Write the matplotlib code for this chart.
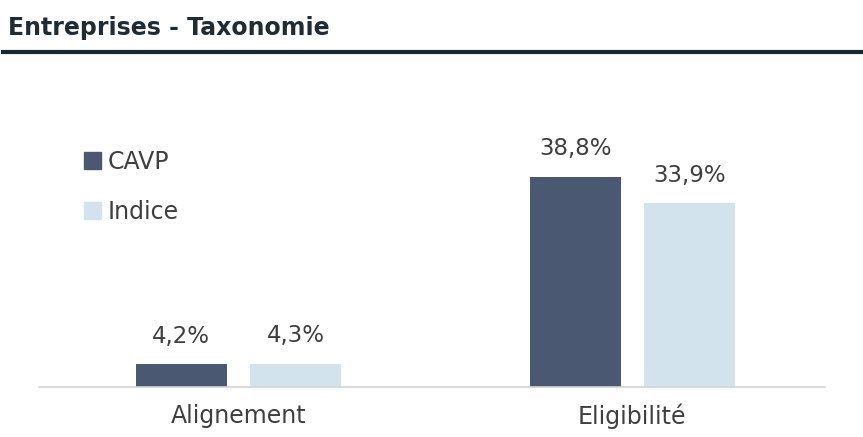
import numpy as np
import matplotlib.pyplot as plt
from matplotlib.lines import Line2D
from matplotlib.patches import Patch

categories = ['Alignement', 'Eligibilité']
cavp = [4.2, 38.8]
indice = [4.3, 33.9]
series_names = ['CAVP', 'Indice']

dark = '#4b5872'
light = '#d3e3ee'
text_col = '#3f3f3f'

W, H = 863, 437
fig = plt.figure(figsize=(W / 100, H / 100), dpi=100)

# axes box in pixel terms: left 39, right 825, baseline 387, top 100
ax = fig.add_axes([39 / W, 1 - 387 / H, (825 - 39) / W, (387 - 100) / H])

x = np.arange(len(categories))
bw = 0.23
off = 0.145
b1 = ax.bar(x - off, cavp, bw, color=dark)
b2 = ax.bar(x + off, indice, bw, color=light)

for bars, vals in ((b1, cavp), (b2, indice)):
    for b, v in zip(bars, vals):
        ax.annotate(f'{v:.1f}%'.replace('.', ','),
                    (b.get_x() + b.get_width() / 2, v),
                    xytext=(0, 12), textcoords='offset points',
                    ha='center', va='bottom', fontsize=16.5, color=text_col)

ax.set_xlim(-0.506, 1.489)
ax.set_ylim(0, 53)
ax.set_xticks(x)
ax.set_xticklabels(categories, fontsize=17, color=text_col)
ax.tick_params(axis='x', length=0, pad=12)
ax.set_yticks([])
for s in ('top', 'right', 'left'):
    ax.spines[s].set_visible(False)
ax.spines['bottom'].set_color('#d4d4d4')
ax.spines['bottom'].set_linewidth(1.2)

handles = [Patch(color=dark), Patch(color=light)]
fig.legend(handles, series_names, loc='upper left',
           bbox_to_anchor=(84 / W, 1 - 150 / H), frameon=False,
           fontsize=17, labelcolor=text_col, handlelength=0.7,
           handleheight=0.7, handletextpad=0.3, labelspacing=1.1,
           borderpad=0, borderaxespad=0)

fig.text(8 / W, 1 - 28 / H, 'Entreprises - Taxonomie', fontsize=17,
         fontweight='bold', color='#1f2b35', va='center', ha='left')
fig.add_artist(Line2D([3 / W, 1], [1 - 51.5 / H, 1 - 51.5 / H],
                      transform=fig.transFigure, color='#172736', lw=3))

fig.savefig('out.png', dpi=100)
